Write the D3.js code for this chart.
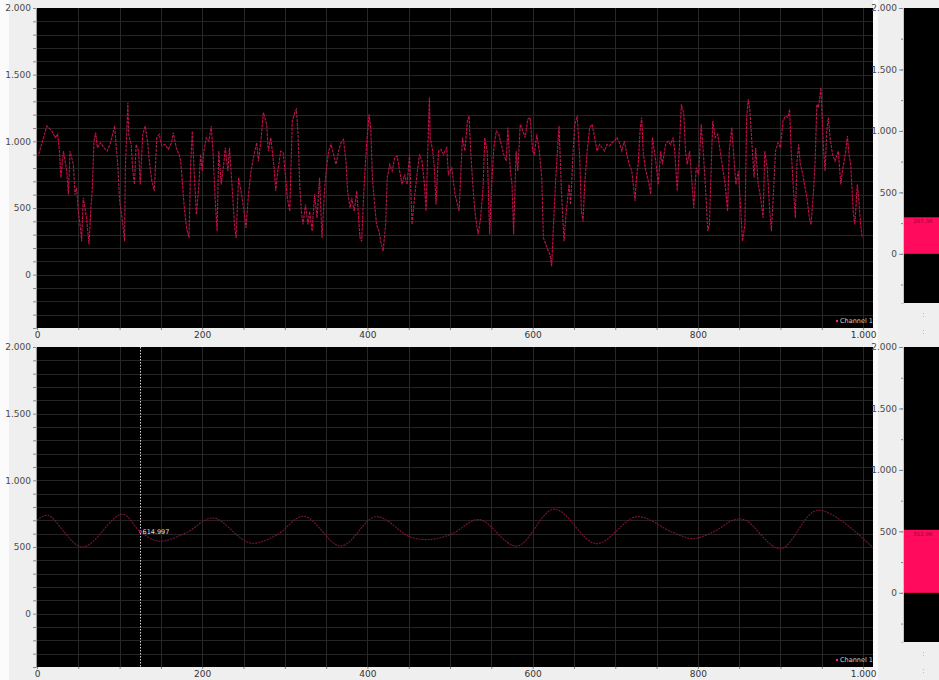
<!DOCTYPE html>
<html>
<head>
<meta charset="utf-8">
<script src="https://cdn.jsdelivr.net/npm/d3@7"></script>
<style>
  body { margin: 0; background: #efefef; overflow: hidden; }
  svg { display: block; font-family: "DejaVu Sans", Verdana, sans-serif; }
</style>
</head>
<body>
<div id="chart"></div>
<script>
// sampled signal, [x, value]
const CHANNEL_1 = [[2,902],[12,1115],[18,1078],[22,1028],[25,1053],[27,940],[29,727],[32,927],[36,777],[38,602],[40,927],[44,827],[46,602],[48,652],[50,476],[53,326],[54,251],[56,577],[60,426],[63,226],[65,476],[67,652],[69,1002],[71,1065],[73,952],[77,990],[81,952],[85,927],[89,990],[94,1115],[96,952],[98,802],[100,552],[103,426],[106,251],[107,802],[110,1291],[111,1053],[114,977],[116,777],[118,677],[120,977],[123,927],[125,677],[128,1053],[131,1115],[134,990],[136,852],[139,702],[142,627],[145,1028],[148,1053],[151,965],[155,977],[159,940],[163,990],[165,1065],[169,940],[172,902],[174,852],[178,526],[181,351],[184,276],[186,827],[188,1078],[190,802],[193,451],[196,677],[198,902],[200,777],[202,927],[205,1028],[208,1002],[211,1115],[213,927],[216,526],[218,326],[220,927],[223,677],[226,827],[228,952],[231,777],[233,952],[236,677],[239,376],[241,276],[244,727],[247,627],[250,501],[253,351],[256,602],[259,777],[262,877],[266,990],[268,852],[271,1002],[274,1216],[278,1128],[280,927],[283,1028],[287,802],[289,627],[291,752],[295,927],[298,915],[301,727],[303,577],[306,476],[309,1153],[312,1216],[314,1241],[316,1053],[318,677],[320,476],[322,376],[325,526],[328,376],[330,476],[333,326],[336,602],[339,426],[342,727],[345,276],[348,627],[350,777],[353,927],[356,977],[359,902],[362,827],[365,927],[368,990],[371,1015],[374,852],[376,627],[379,501],[381,577],[384,476],[387,627],[391,276],[393,251],[396,677],[399,977],[402,1203],[404,1103],[406,727],[408,577],[411,376],[414,326],[416,251],[419,176],[422,376],[424,727],[427,827],[430,777],[433,877],[436,890],[439,777],[442,677],[445,752],[448,677],[451,902],[454,376],[457,577],[460,752],[463,902],[466,852],[469,677],[471,476],[473,927],[475,1328],[476,1028],[479,927],[481,802],[483,526],[486,927],[489,940],[492,902],[496,952],[498,752],
  [502,802],[506,602],[508,552],[511,476],[515,1028],[518,927],[521,1153],[523,1190],[525,927],[527,727],[529,552],[531,426],[534,301],[537,426],[540,652],[542,1028],[545,927],[548,301],[550,627],[553,952],[556,1078],[559,1053],[562,977],[565,902],[568,852],[570,1103],[573,777],[575,677],[577,301],[580,927],[582,777],[585,1128],[588,1078],[591,1028],[594,1165],[597,1178],[600,927],[602,902],[605,1053],[608,927],[611,727],[613,276],[616,226],[619,176],[621,151],[623,63],[626,476],[628,727],[631,1028],[632,1115],[635,602],[638,251],[640,426],[644,677],[646,526],[649,927],[651,1128],[654,1190],[657,877],[659,476],[661,401],[663,677],[666,927],[669,1103],[672,1128],[675,1028],[678,927],[681,977],[684,952],[687,927],[690,977],[693,965],[696,990],[699,1002],[702,1028],[705,990],[708,927],[711,1002],[714,902],[717,827],[720,777],[724,552],[725,677],[728,852],[730,1078],[732,1178],[734,902],[737,777],[741,677],[743,602],[745,1028],[749,852],[752,677],[755,927],[757,827],[761,977],[764,1002],[767,977],[770,1028],[772,927],[775,627],[777,877],[780,1278],[783,1203],[785,927],[787,827],[790,927],[793,677],[795,501],[798,802],[801,752],[804,1128],[807,877],[809,677],[812,326],[814,376],[816,777],[818,1153],[821,1028],[824,1053],[827,927],[830,802],[833,677],[836,476],[838,927],[841,1103],[843,927],[846,677],[849,777],[852,476],[854,251],[857,376],[859,1178],[861,1316],[863,1228],[866,927],[868,727],[870,952],[873,677],[876,577],[879,426],[881,927],[884,802],[887,476],[889,326],[892,677],[894,927],[897,990],[900,952],[903,1153],[906,1190],[909,1178],[911,1241],[913,927],[916,602],[918,426],[920,852],[922,977],[924,827],[927,752],[929,677],[932,577],[935,426],[937,376],[940,627],[942,852],[944,1278],[946,1253],[949,1403],[950,1228],[952,952],[954,777],[956,1078],[958,1178],[960,1028],[963,902],[966,852],[970,927],[973,677],[975,777],[979,927],[981,1040],[983,902],[985,827],[988,476],[990,376],[993,677],[995,552],[997,376],[999,276]]

const CHANNEL_2 = [[0,700],[13,738],[55,500],[103,746],[125,615],[148,543],[181,608],[213,718],[258,530],[290,589],[323,731],[368,507],[410,727],[452,575],[477,557],[503,600],[535,706],[581,507],[626,784],[677,525],[726,727],[768,614],[794,563],[819,614],[845,706],[858,700],[900,487],[945,776],[1011,500]]

const BAR_VALUES = [297.36, 512.96]
const BAR_LABELS = ["297.36", "512.96"]
const CURSOR_X = 124.7
const CURSOR_LABEL = "614.997"
const Y_TICKS = [0, 500, 1000, 1500, 2000]
const X_TICKS = [0, 200, 400, 600, 800, 1000]
const LEGEND_NAME = "Channel 1"

const WIDTH = 939
const HEIGHT = 680
const PLOT = {left: 37, right: 873}
const BAR_PANEL = {left: 904, right: 950}
const CHARTS = [
  {top: 8, bottom: 328, barBottom: 303},
  {top: 347, bottom: 667, barBottom: 642}
]

const fmt = d3.formatLocale({decimal: ",", thousands: ".", grouping: [3], currency: ["", ""]}).format(",d")

function createSVG(elementId, width, height) {
  return d3.select(`#${elementId}`)
    .append("svg")
    .attr("width", width)
    .attr("height", height)
}

function styleAxis(g, color, size) {
  g.select(".domain").attr("stroke", "#9a9a9a")
  g.selectAll(".tick line").attr("stroke", "#8a8a8a")
  g.selectAll(".tick text")
    .attr("fill", color)
    .attr("font-size", size)
    .attr("font-family", "DejaVu Sans, Verdana, sans-serif")
}

function drawGrid(g, x, y, cfg) {
  g.selectAll("line.h-grid")
    .data(d3.range(-300, 2000, 100)).enter()
    .append("line")
    .classed("h-grid", true)
    .attr("x1", PLOT.left)
    .attr("x2", PLOT.right)
    .attr("y1", (d) => Math.round(y(d)) + 0.5)
    .attr("y2", (d) => Math.round(y(d)) + 0.5)
    .attr("stroke", "#242424")
    .attr("stroke-width", 1)

  g.selectAll("line.v-grid")
    .data(d3.range(50, 1011, 50)).enter()
    .append("line")
    .classed("v-grid", true)
    .attr("x1", (d) => Math.round(x(d)) + 0.5)
    .attr("x2", (d) => Math.round(x(d)) + 0.5)
    .attr("y1", cfg.top)
    .attr("y2", cfg.bottom)
    .attr("stroke", "#272727")
    .attr("stroke-width", 1)
}

function drawAxes(svg, x, y, cfg) {
  const left = svg.append("g")
    .attr("transform", `translate(${PLOT.left - 1},0)`)
    .call(d3.axisLeft(y).tickValues(d3.range(-400, 2001, 100)).tickSize(3).tickFormat(""))
  styleAxis(left, "#444", 9)

  const leftLabels = svg.append("g")
    .attr("transform", `translate(${PLOT.left - 1},0)`)
    .call(d3.axisLeft(y).tickValues(Y_TICKS).tickSize(0).tickPadding(5).tickFormat(fmt))
  leftLabels.select(".domain").remove()
  styleAxis(leftLabels, "#4a4a4a", 9)

  const bottom = svg.append("g")
    .attr("transform", `translate(0,${cfg.bottom})`)
    .call(d3.axisBottom(x).tickValues(d3.range(0, 1001, 50)).tickSize(2).tickFormat(""))
  bottom.select(".domain").remove()
  styleAxis(bottom, "#444", 9)

  const bottomLabels = svg.append("g")
    .attr("transform", `translate(0,${cfg.bottom})`)
    .call(d3.axisBottom(x).tickValues(X_TICKS).tickSize(0).tickPadding(4).tickFormat(fmt))
  bottomLabels.select(".domain").remove()
  styleAxis(bottomLabels, "#333", 9)
}

function drawLegend(svg, cfg) {
  svg.append("circle")
    .attr("cx", PLOT.right - 36)
    .attr("cy", cfg.bottom - 7)
    .attr("r", 1.2)
    .attr("fill", "#ff2a6a")
  svg.append("text")
    .text(LEGEND_NAME)
    .attr("x", PLOT.right - 33)
    .attr("y", cfg.bottom - 5)
    .attr("fill", "#d0d0d0")
    .attr("font-size", 6.5)
}

function drawPlot(svg, cfg, data, opts) {
  const x = d3.scaleLinear().domain([0, 1012]).range([PLOT.left, PLOT.right])
  const y = d3.scaleLinear().domain([-400, 2000]).range([cfg.bottom, cfg.top])

  svg.append("rect")
    .attr("x", PLOT.left)
    .attr("y", cfg.top)
    .attr("width", PLOT.right - PLOT.left)
    .attr("height", cfg.bottom - cfg.top)
    .attr("fill", "#000")

  const g = svg.append("g")
  drawGrid(g, x, y, cfg)

  const line = d3.line()
    .x((d) => x(d[0]))
    .y((d) => y(d[1]))
    .curve(opts.curve)

  g.append("path")
    .datum(data)
    .attr("d", line)
    .attr("fill", "none")
    .attr("stroke", opts.color)
    .attr("stroke-width", opts.width)
    .attr("stroke-dasharray", opts.dash)

  drawAxes(svg, x, y, cfg)
  drawLegend(svg, cfg)
  return {x, y}
}

function drawCursor(svg, scales, cfg) {
  const cx = Math.round(scales.x(CURSOR_X)) + 0.5
  const cy = scales.y(+CURSOR_LABEL)
  svg.append("line")
    .attr("x1", cx)
    .attr("x2", cx)
    .attr("y1", cfg.top)
    .attr("y2", cfg.bottom)
    .attr("stroke", "#d8d8d8")
    .attr("stroke-width", 1)
    .attr("stroke-dasharray", "1.5 1.5")
  svg.append("rect")
    .attr("x", cx - 1.5)
    .attr("y", cy - 1.5)
    .attr("width", 3)
    .attr("height", 3)
    .attr("fill", "#b01446")
  svg.append("text")
    .text(CURSOR_LABEL)
    .attr("x", cx + 2)
    .attr("y", cy + 2)
    .attr("fill", "#e0e0e0")
    .attr("font-size", 6.5)
}

function drawBarPanel(svg, cfg, value, label) {
  const y = d3.scaleLinear().domain([-400, 2000]).range([cfg.barBottom, cfg.top])

  svg.append("rect")
    .attr("x", BAR_PANEL.left)
    .attr("y", cfg.top)
    .attr("width", BAR_PANEL.right - BAR_PANEL.left)
    .attr("height", cfg.barBottom - cfg.top)
    .attr("fill", "#000")

  svg.append("rect")
    .attr("x", BAR_PANEL.left)
    .attr("y", y(value))
    .attr("width", BAR_PANEL.right - BAR_PANEL.left)
    .attr("height", y(0) - y(value))
    .attr("fill", "#ff0a5c")

  svg.append("text")
    .text(label)
    .attr("x", 923)
    .attr("y", y(value) + 6)
    .attr("text-anchor", "middle")
    .attr("fill", "#a3002e")
    .attr("font-size", 5.5)

  const minor = svg.append("g")
    .attr("transform", `translate(${BAR_PANEL.left - 1},0)`)
    .call(d3.axisLeft(y).tickValues(d3.range(-250, 2001, 250)).tickSize(2).tickFormat(""))
  styleAxis(minor, "#444", 9)
  minor.select(".domain").attr("stroke", "#c8c8c8")

  const major = svg.append("g")
    .attr("transform", `translate(${BAR_PANEL.left - 1},0)`)
    .call(d3.axisLeft(y).tickValues(Y_TICKS).tickSize(4).tickPadding(2).tickFormat(fmt))
  major.select(".domain").remove()
  styleAxis(major, "#4a4a4a", 9)

  // small grip marks under the panel
  svg.append("line")
    .attr("x1", 923.5).attr("x2", 923.5)
    .attr("y1", cfg.barBottom + 10).attr("y2", cfg.barBottom + 15)
    .attr("stroke", "#bbb")
    .attr("stroke-dasharray", "1 2")
  svg.append("line")
    .attr("x1", 923.5).attr("x2", 923.5)
    .attr("y1", cfg.barBottom + 27).attr("y2", cfg.barBottom + 33)
    .attr("stroke", "#bbb")
    .attr("stroke-dasharray", "1 2")
}

const svg = createSVG("chart", WIDTH, HEIGHT)

svg.append("rect").attr("x", 0).attr("y", 0).attr("width", 9).attr("height", HEIGHT).attr("fill", "#fbfbfb")
svg.append("rect").attr("x", PLOT.right).attr("y", 0).attr("width", 5).attr("height", HEIGHT).attr("fill", "#fbfbfb")

drawPlot(svg, CHARTS[0], CHANNEL_1, {color: "#c0124a", width: 1.1, dash: "3 1", curve: d3.curveLinear})
const bottomScales = drawPlot(svg, CHARTS[1], CHANNEL_2, {color: "#7c1634", width: 1.1, dash: "2 1", curve: d3.curveCatmullRom})
drawCursor(svg, bottomScales, CHARTS[1])

CHARTS.forEach((cfg, i) => drawBarPanel(svg, cfg, BAR_VALUES[i], BAR_LABELS[i]))
</script>
</body>
</html>
